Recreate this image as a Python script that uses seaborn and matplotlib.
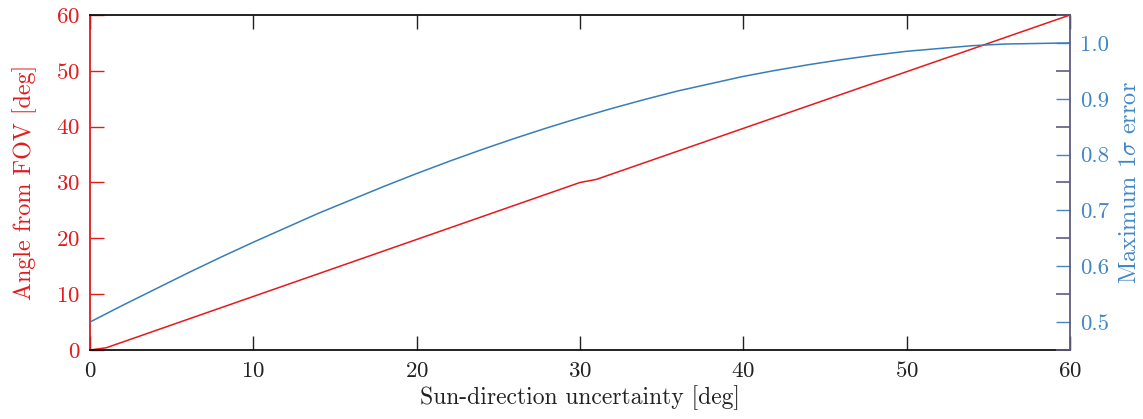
import matplotlib
matplotlib.use("Agg")
import matplotlib.pyplot as plt
import seaborn as sns
from matplotlib.ticker import FormatStrFormatter, FixedLocator

# ---- data ----
uncertainty_red = [0, 1, 30, 31, 60]
angle_from_fov = [0, 0.4, 30, 30.55, 60]

uncertainty_blue = [0, 2, 4, 6, 8, 10, 12, 14, 16, 18, 20, 22, 24, 26, 28, 30,
                    32, 34, 36, 38, 40, 42, 44, 46, 48, 50, 52, 54, 56, 58, 60]
max_sigma_error = [0.500, 0.530, 0.559, 0.588, 0.616, 0.643, 0.669, 0.695, 0.719,
                   0.743, 0.766, 0.788, 0.809, 0.829, 0.848, 0.866, 0.883, 0.899,
                   0.914, 0.927, 0.940, 0.951, 0.961, 0.970, 0.978, 0.985, 0.990,
                   0.995, 0.998, 0.999, 1.000]

x_ticks = [0, 10, 20, 30, 40, 50, 60]
left_ticks = [0, 10, 20, 30, 40, 50, 60]
right_ticks = [0.5, 0.6, 0.7, 0.8, 0.9, 1.0]
right_minor_ticks = [0.45, 0.55, 0.65, 0.75, 0.85, 0.95, 1.05]

RED = "#e41a1c"
BLUE = "#377eb8"
BLUE_TXT = "#4287c4"
PURPLE = "#5f5a80"

sns.set_style("ticks")
plt.rcParams["font.family"] = ["cmr10", "DejaVu Serif"]
plt.rcParams["mathtext.fontset"] = "cm"
plt.rcParams["axes.formatter.use_mathtext"] = True
plt.rcParams["axes.unicode_minus"] = False

fig = plt.figure(figsize=(11.43, 4.19), dpi=100)
ax = fig.add_axes([0.0787, 0.1647, 0.8574, 0.7995])

sns.lineplot(x=uncertainty_red, y=angle_from_fov, ax=ax, color=RED, linewidth=1.1)
ax2 = ax.twinx()
sns.lineplot(x=uncertainty_blue, y=max_sigma_error, ax=ax2, color=BLUE, linewidth=1.1)

ax.set_xlim(0, 60)
ax.set_ylim(0, 60)
ax2.set_ylim(0.45, 1.05)
ax.set_xticks(x_ticks)
ax.set_yticks(left_ticks)
ax2.set_yticks(right_ticks)
ax2.yaxis.set_minor_locator(FixedLocator(right_minor_ticks))
ax2.yaxis.set_major_formatter(FormatStrFormatter("%.1f"))

FS = 17
TFS = 16.5
ax.set_xlabel("Sun-direction uncertainty [deg]", fontsize=FS, color="#222222", labelpad=3)
ax.set_ylabel("Angle from FOV [deg]", fontsize=FS + 0.3, color=RED, labelpad=14)
ax2.set_ylabel(r"Maximum 1$\sigma$ error", fontsize=FS + 0.5, color=BLUE_TXT, labelpad=7)

ax.tick_params(axis="x", direction="in", length=10, width=1, top=True, bottom=True,
               labelsize=TFS, colors="#222222", pad=8)
ax.tick_params(axis="y", direction="in", length=10, width=1, left=True, right=False,
               labelsize=TFS, colors=RED, pad=7)
ax2.tick_params(axis="y", which="major", direction="in", length=10, width=1, left=False,
                right=True, labelsize=TFS, colors=BLUE_TXT, pad=7)
ax2.tick_params(axis="y", which="minor", direction="in", length=10, width=1.2, left=False,
                right=True, colors=PURPLE)

for s in ["top", "bottom"]:
    ax.spines[s].set_color("#111111")
    ax.spines[s].set_linewidth(1.3)
ax.spines["left"].set_color(RED)
ax.spines["left"].set_linewidth(1.3)
ax.spines["right"].set_visible(False)
for s in ["top", "bottom", "left"]:
    ax2.spines[s].set_visible(False)
ax2.spines["right"].set_color(PURPLE)
ax2.spines["right"].set_linewidth(1.3)

fig.savefig("out.png", dpi=100)
